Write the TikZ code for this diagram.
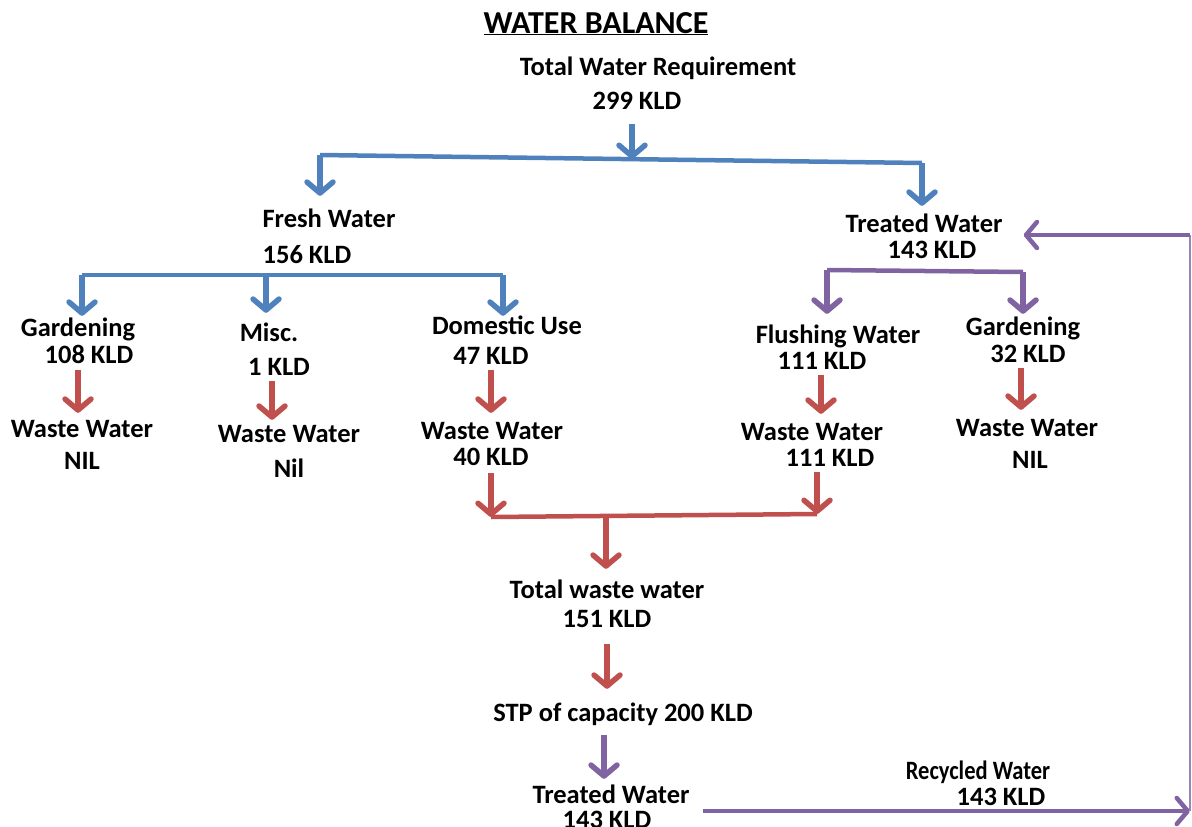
\documentclass[tikz,border=0pt]{standalone}
\usepackage{fontspec}
\setmainfont{Carlito}
\usetikzlibrary{arrows.meta,calc}
\definecolor{flowblue}{RGB}{79,129,189}
\definecolor{flowred}{RGB}{192,80,77}
\definecolor{flowpurple}{RGB}{128,100,162}

\begin{document}
\begin{tikzpicture}[x=1pt,y=-1pt,font=\bfseries\fontsize{26.5}{30}\selectfont,
  >={Straight Barb[round,length=11pt,width=26pt]},
  lbl/.style={inner sep=0pt,anchor=base,text height=18pt,text depth=6pt},
  bus/.style={line width=4.5pt},
  flow/.style={line width=5.5pt,->,shorten <=3pt,shorten >=8pt}]
  \useasboundingbox (0,0) rectangle (1192,827);
  % labels
  \node[lbl,font=\bfseries\fontsize{32}{36}\selectfont] (title) at (596,33) {\underline{WATER BALANCE}};
  \node[lbl] (total) at (658,75) {Total Water Requirement};
  \node[lbl] (totalq) at (637,109) {299 KLD};
  \node[lbl] (fresh) at (329,227) {Fresh Water};
  \node[lbl] (freshq) at (307,263) {156 KLD};
  \node[lbl] (treat) at (924,232) {Treated Water};
  \node[lbl] (treatq) at (932,258) {143 KLD};
  \node[lbl] (gard) at (78,336) {Gardening};
  \node[lbl] (gardq) at (89,363) {108 KLD};
  \node[lbl] (misc) at (269,341) {Misc.};
  \node[lbl] (miscq) at (279,375) {1 KLD};
  \node[lbl] (dom) at (507,334) {Domestic Use};
  \node[lbl] (domq) at (491,364) {47 KLD};
  \node[lbl] (flush) at (838,343) {Flushing Water};
  \node[lbl] (flushq) at (822,369) {111 KLD};
  \node[lbl] (gardt) at (1023,335) {Gardening};
  \node[lbl] (gardtq) at (1028,362) {32 KLD};
  \node[lbl] (wwgard) at (82,437) {Waste Water};
  \node[lbl] (wwgardq) at (82,469) {NIL};
  \node[lbl] (wwmisc) at (289,442) {Waste Water};
  \node[lbl] (wwmiscq) at (289,477) {Nil};
  \node[lbl] (wwdom) at (492,439) {Waste Water};
  \node[lbl] (wwdomq) at (491,465) {40 KLD};
  \node[lbl] (wwflush) at (812,440) {Waste Water};
  \node[lbl] (wwflushq) at (830,466) {111 KLD};
  \node[lbl] (wwgardt) at (1027,436) {Waste Water};
  \node[lbl] (wwgardtq) at (1030,468) {NIL};
  \node[lbl] (tww) at (607,598) {Total waste water};
  \node[lbl] (twwq) at (607,627) {151 KLD};
  \node[lbl] (stp) at (623,721) {STP of capacity 200 KLD};
  \node[lbl] (tw) at (611,803) {Treated Water};
  \node[lbl] (twq) at (607,828) {143 KLD};
  \node[lbl] (rec) at (978,779) {\scalebox{0.85}[1]{Recycled Water}};
  \node[lbl] (recq) at (1001,805) {143 KLD};
  % bus points
  \coordinate (topL) at (320,155);
  \coordinate (topM) at (632,159);
  \coordinate (topR) at (922,163);
  \coordinate (freshL) at (82,275);
  \coordinate (freshM) at (266,275);
  \coordinate (freshR) at (503,275);
  \coordinate (treatL) at (827,270);
  \coordinate (treatR) at (1023,272);
  \coordinate (wasteL) at (491,517);
  \coordinate (wasteM) at (606,516);
  \coordinate (wasteR) at (817,514);
  \coordinate (retA) at (703,811);
  \coordinate (retB) at (1190,811);
  \coordinate (retC) at (1190,235);
  % blue: supply split
  \draw[flowblue,bus] (topL) -- (topR);
  \draw[flowblue,flow,shorten <=9pt,shorten >=0pt] (totalq.south -| topM) -- (topM);
  \draw[flowblue,flow,shorten <=0pt,shorten >=13pt] (topL) -- (fresh.north -| topL);
  \draw[flowblue,flow,shorten <=0pt,shorten >=8pt] (topR) -- (treat.north -| topR);
  \draw[flowblue,bus] (freshL) -- (freshR);
  \draw[flowblue,flow,shorten <=0pt,shorten >=2pt] (freshL) -- (gard.north -| freshL);
  \draw[flowblue,flow,shorten <=0pt,shorten >=10pt] (freshM) -- (misc.north -| freshM);
  \draw[flowblue,flow,shorten <=0pt,shorten >=0pt] (freshR) -- (dom.north -| freshR);
  % purple: treated water use
  \draw[flowpurple,bus] (treatL) -- (treatR);
  \draw[flowpurple,flow,shorten <=0pt,shorten >=11pt] (treatL) -- (flush.north -| treatL);
  \draw[flowpurple,flow,shorten <=0pt,shorten >=3pt] (treatR) -- (gardt.north -| treatR);
  % red: waste water
  \draw[flowred,flow,shorten <=1pt,shorten >=6pt] ($(gardq.south)+(-11,0)$) -- ($(wwgard.north)+(-4,0)$);
  \draw[flowred,flow,shorten <=0pt,shorten >=4pt] ($(miscq.south)+(-7,0)$) -- ($(wwmisc.north)+(-17,0)$);
  \draw[flowred,flow,shorten <=0pt,shorten >=8pt] (domq.south) -- (wwdom.north -| domq.south);
  \draw[flowred,flow,shorten <=0pt,shorten >=8pt] ($(flushq.south)+(-1,0)$) -- ($(wwflush.north)+(9,0)$);
  \draw[flowred,flow,shorten <=0pt,shorten >=8pt] ($(gardtq.south)+(-7,0)$) -- ($(wwgardt.north)+(-6,0)$);
  \draw[flowred,bus] (wasteL) -- (wasteR);
  \draw[flowred,flow,shorten <=2pt,shorten >=0pt] (wwdomq.south) -- (wwdomq.south |- wasteL);
  \draw[flowred,flow,shorten <=0pt,shorten >=0pt] (wwflushq.south -| wasteR) -- (wasteR);
  \draw[flowred,flow,shorten <=0pt,shorten >=11pt] (wasteM) -- (tww.north -| wasteM);
  \draw[flowred,flow,shorten <=11pt,shorten >=14pt] (twwq.south) -- (stp.north -| twwq.south);
  % purple: recycle loop
  \draw[flowpurple,flow,shorten <=8pt,shorten >=6pt] ($(stp.south)+(-19,0)$) -- ($(tw.north)+(-7,0)$);
  \draw[flowpurple,line width=4.5pt,->,shorten >=0pt] (retA) -- (retB);
  \draw[flowpurple!80,line width=2pt] (retB) -- (retC);
  \draw[flowpurple,line width=4.5pt,->,shorten >=21pt] (retC) -- (treat.east |- retC);
\end{tikzpicture}
\end{document}
